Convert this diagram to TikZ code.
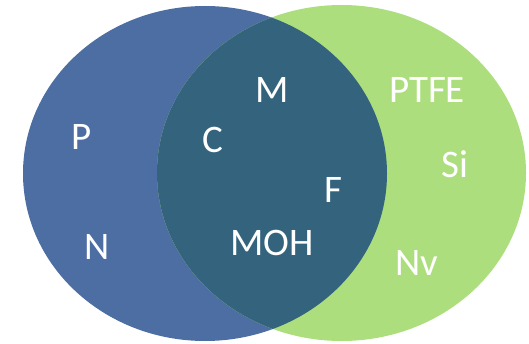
\documentclass[tikz,border=0pt]{standalone}
\usepackage{fontspec}
\setmainfont{Carlito}
\definecolor{vblue}{HTML}{4C6EA3}
\definecolor{vgreen}{HTML}{ADDE7D}
\definecolor{vmix}{HTML}{34647D}
\begin{document}
\begin{tikzpicture}[x=1pt,y=-1pt,
  lbl/.style={text=white,font=\fontsize{39}{39}\selectfont,inner sep=0pt,anchor=base}]
\useasboundingbox (0,0) rectangle (529,344);
\fill[vblue] (205,173.5) ellipse [x radius=182pt, y radius=167.5pt];
\fill[vgreen] (341.5,173) ellipse [x radius=184.5pt, y radius=168pt];
\begin{scope}
  \clip (205,173.5) ellipse [x radius=182pt, y radius=167.5pt];
  \fill[vmix] (341.5,173) ellipse [x radius=184.5pt, y radius=168pt];
\end{scope}
\node[lbl] (p) at (82,150) {P};
\node[lbl] (n) at (97.5,259) {N};
\node[lbl] (m) at (272,103) {M};
\node[lbl] (c) at (213,153) {C};
\node[lbl] (f) at (333,203) {F};
\node[lbl] (moh) at (272,255) {MOH};
\node[lbl] (ptfe) at (427,103) {PTFE};
\node[lbl] (si) at (455,178) {Si};
\node[lbl] (nv) at (417,275) {Nv};
\end{tikzpicture}
\end{document}
